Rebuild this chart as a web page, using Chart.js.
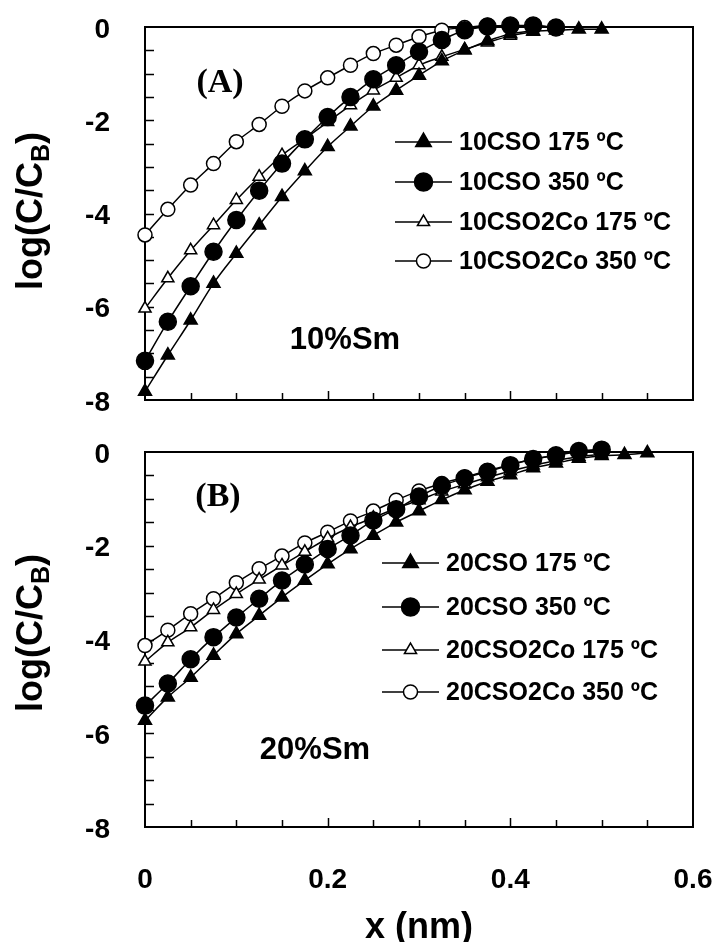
<!DOCTYPE html>
<html>
<head>
<meta charset="utf-8">
<script src="https://cdn.jsdelivr.net/npm/chart.js@4.4.1/dist/chart.umd.min.js"></script>
<style>
  html, body { margin: 0; padding: 0; background: #fff; overflow: hidden; }
  #wrap { position: relative; width: 716px; height: 942px; }
  canvas { position: absolute; left: 0; }
  #chartA { top: 0; }
  #chartB { top: 420px; }
</style>
</head>
<body>
<div id="wrap">
  <canvas id="chartA" width="716" height="420"></canvas>
  <canvas id="chartB" width="716" height="522"></canvas>
</div>
<script>
// x positions of the profile points (nm)
const xs = [0, 0.025, 0.05, 0.075, 0.1, 0.125, 0.15, 0.175, 0.2, 0.225, 0.25, 0.275,
            0.3, 0.325, 0.35, 0.375, 0.4, 0.425, 0.45, 0.475, 0.5, 0.525, 0.55];

// panel A - 10% Sm
const labelsA = ['10CSO 175 ºC', '10CSO 350 ºC', '10CSO2Co 175 ºC', '10CSO2Co 350 ºC'];
const cso10_175 = [-7.82, -7.04, -6.29, -5.5, -4.86, -4.25, -3.64, -3.09, -2.57, -2.13, -1.7, -1.36,
                   -1.04, -0.73, -0.5, -0.3, -0.15, -0.09, -0.07, -0.05, -0.05];
const cso10_350 = [-7.16, -6.32, -5.56, -4.82, -4.14, -3.51, -2.93, -2.41, -1.93, -1.5, -1.12, -0.82,
                   -0.53, -0.28, -0.07, 0.01, 0.03, 0.03, -0.01];
const cso10co_175 = [-6.04, -5.39, -4.79, -4.25, -3.71, -3.21, -2.75, -2.4, -2.04, -1.68, -1.36, -1.09,
                     -0.82, -0.64, -0.48, -0.33, -0.19, -0.1];
const cso10co_350 = [-4.46, -3.91, -3.39, -2.93, -2.46, -2.09, -1.7, -1.37, -1.09, -0.82, -0.57, -0.39,
                     -0.21, -0.07, -0.01, 0.04];

// panel B - 20% Sm
const labelsB = ['20CSO 175 ºC', '20CSO 350 ºC', '20CSO2Co 175 ºC', '20CSO2Co 350 ºC'];
const cso20_175 = [-5.73, -5.23, -4.81, -4.34, -3.88, -3.49, -3.1, -2.74, -2.39, -2.07, -1.78, -1.5,
                   -1.26, -1.02, -0.81, -0.63, -0.49, -0.34, -0.24, -0.14, -0.08, -0.06, -0.02];
const cso20_350 = [-5.41, -4.94, -4.42, -3.95, -3.53, -3.13, -2.74, -2.4, -2.07, -1.78, -1.46, -1.22,
                   -0.95, -0.72, -0.56, -0.42, -0.28, -0.15, -0.07, 0.02, 0.05];
const cso20co_175 = [-4.47, -4.06, -3.74, -3.37, -3.03, -2.72, -2.42, -2.13, -1.84, -1.6, -1.4, -1.2,
                     -1.03, -0.84, -0.69, -0.54, -0.41, -0.29, -0.18, -0.1, -0.05];
const cso20co_350 = [-4.13, -3.8, -3.45, -3.13, -2.79, -2.49, -2.22, -1.94, -1.71, -1.47, -1.26, -1.03,
                     -0.83, -0.67, -0.54, -0.4, -0.27, -0.15, -0.07, 0.01, 0.06];

const xTicks = [0, 0.2, 0.4, 0.6];
const yTicks = [0, -2, -4, -6, -8];

const FONT = "'Liberation Sans', Arial, sans-serif";

// marker look per series: filled triangle, filled circle, open triangle, open circle
const marks = [
  { style: 'triangle', r: 7.5, lr: 9, fill: '#000' },
  { style: 'circle', r: 8.5, lr: 9, fill: '#000' },
  { style: 'triangle', r: 7, lr: 7, fill: '#fff' },
  { style: 'circle', r: 7, lr: 7, fill: '#fff' }
];

function makeDatasets(labels, series) {
  return series.map((vals, i) => ({
    label: labels[i],
    data: vals.map((v, k) => ({ x: xs[k], y: v })),
    borderColor: '#000',
    borderWidth: 1.5,
    pointStyle: marks[i].style,
    pointRadius: marks[i].r,
    pointBackgroundColor: marks[i].fill,
    pointBorderColor: '#000',
    pointBorderWidth: 1.5,
    cubicInterpolationMode: 'monotone',
    fill: false,
    clip: false
  }));
}

// frame, inward ticks, legend and annotations
function panelPlugin(p) {
  return {
    id: 'panel',
    beforeDatasetsDraw(chart) {
      const { ctx, chartArea: a, scales: { x, y } } = chart;
      ctx.save();
      ctx.strokeStyle = '#000';
      ctx.lineWidth = 2;
      ctx.strokeRect(a.left, a.top, a.right - a.left, a.bottom - a.top);
      ctx.lineWidth = 1.5;
      ctx.beginPath();
      for (let v = -7.5; v < 0; v += 0.5) {
        const py = Math.round(y.getPixelForValue(v)) + 0.5;
        ctx.moveTo(a.left, py);
        ctx.lineTo(a.left + 9, py);
      }
      for (let k = 1; k < 12; k++) {
        const px = Math.round(x.getPixelForValue(k * 0.05)) + 0.5;
        const len = k % 4 === 0 ? 9 : 7;
        ctx.moveTo(px, a.bottom);
        ctx.lineTo(px, a.bottom - len);
      }
      ctx.stroke();
      ctx.restore();
    },
    afterDraw(chart) {
      const ctx = chart.ctx;
      ctx.save();
      ctx.fillStyle = '#000';

      // y title with subscript
      ctx.translate(42, p.titleY);
      ctx.rotate(-Math.PI / 2);
      ctx.textBaseline = 'alphabetic';
      ctx.font = 'bold 36px ' + FONT;
      const t1 = 'log(C/C', t3 = ')';
      const w1 = ctx.measureText(t1).width, w3 = ctx.measureText(t3).width;
      ctx.font = 'bold 25px ' + FONT;
      const w2 = ctx.measureText('B').width;
      let sx = -(w1 + w2 + w3) / 2;
      ctx.font = 'bold 36px ' + FONT;
      ctx.fillText(t1, sx, 0);
      ctx.font = 'bold 25px ' + FONT;
      ctx.fillText('B', sx + w1, 7);
      ctx.font = 'bold 36px ' + FONT;
      ctx.fillText(t3, sx + w1 + w2, 0);
      ctx.setTransform(1, 0, 0, 1, 0, 0);

      // panel letter and composition note
      ctx.textAlign = 'center';
      ctx.textBaseline = 'middle';
      ctx.font = "bold 34px 'Liberation Serif', 'Times New Roman', serif";
      ctx.fillText(p.letter, p.letterPos[0], p.letterPos[1]);
      ctx.font = 'bold 31px ' + FONT;
      ctx.fillText(p.note, p.notePos[0], p.notePos[1]);

      // legend
      ctx.textAlign = 'left';
      ctx.font = 'bold 25px ' + FONT;
      p.labels.forEach((lab, i) => {
        const ry = p.legRows[i];
        ctx.strokeStyle = '#000';
        ctx.lineWidth = 1.5;
        ctx.beginPath();
        ctx.moveTo(p.legX[0], ry);
        ctx.lineTo(p.legX[1], ry);
        ctx.stroke();
        ctx.fillStyle = marks[i].fill;
        Chart.helpers.drawPoint(ctx, { pointStyle: marks[i].style, radius: marks[i].lr, rotation: 0, borderWidth: 1.5 },
          (p.legX[0] + p.legX[1]) / 2, ry);
        ctx.fillStyle = '#000';
        ctx.fillText(lab, p.legX[1] + 7, ry + 1);
      });
      ctx.restore();
    }
  };
}

function makeChart(id, labels, series, p, showX) {
  return new Chart(document.getElementById(id), {
    type: 'line',
    data: { datasets: makeDatasets(labels, series) },
    options: {
      responsive: false,
      animation: false,
      devicePixelRatio: 1,
      layout: { padding: { top: p.padTop, right: 23, bottom: 0, left: 0 } },
      plugins: { legend: { display: false }, tooltip: { enabled: false } },
      scales: {
        x: {
          type: 'linear',
          min: 0,
          max: 0.6,
          afterBuildTicks: s => { s.ticks = xTicks.map(v => ({ value: v })); },
          afterFit: s => {
            s.height = p.xHeight;
            s.paddingLeft = 0; s.paddingRight = 0;
          },
          grid: { display: false },
          border: { display: false },
          ticks: {
            display: showX,
            color: '#000',
            padding: 28,
            font: { family: FONT, size: 28, weight: 'bold' },
            callback: v => (v === 0 ? '0' : v.toFixed(1))
          },
          title: {
            display: showX,
            text: 'x (nm)',
            color: '#000',
            padding: 0,
            font: { family: FONT, size: 36, weight: 'bold', lineHeight: 0.8 }
          }
        },
        y: {
          min: -8,
          max: 0,
          afterBuildTicks: s => { s.ticks = yTicks.map(v => ({ value: v })); },
          afterFit: s => {
            s.width = 145;
            s.paddingTop = 0; s.paddingBottom = 0;
          },
          grid: { display: false },
          border: { display: false },
          ticks: {
            color: '#000',
            padding: 27,
            labelOffset: 3,
            font: { family: FONT, size: 28, weight: 'bold' }
          }
        }
      }
    },
    plugins: [panelPlugin(p)]
  });
}

makeChart('chartA', labelsA, [cso10_175, cso10_350, cso10co_175, cso10co_350], {
  padTop: 27, xHeight: 20, titleY: 211,
  letter: '(A)', letterPos: [220, 83], note: '10%Sm', notePos: [345, 340],
  labels: labelsA, legX: [395, 452], legRows: [142, 182, 222, 261]
}, false);

makeChart('chartB', labelsB, [cso20_175, cso20_350, cso20co_175, cso20co_350], {
  padTop: 32, xHeight: 115, titleY: 213,
  letter: '(B)', letterPos: [218, 77], note: '20%Sm', notePos: [315, 330],
  labels: labelsB, legX: [382, 439], legRows: [143, 187, 230, 272]
}, true);
</script>
</body>
</html>
